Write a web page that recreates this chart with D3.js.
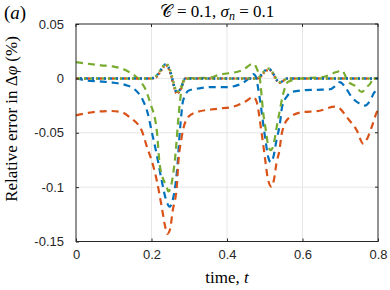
<!DOCTYPE html>
<html>
<head>
<meta charset="utf-8">
<script src="https://cdn.jsdelivr.net/npm/d3@7"></script>
<style>
  body { margin: 0; background: #fff; }
  svg { display: block; }
</style>
</head>
<body>
<div id="chart"></div>
<script>
// x ticks / y ticks
const xTicks = [0, 0.2, 0.4, 0.6, 0.8];
const yTicks = [0.05, 0, -0.05, -0.1, -0.15];

// blue dashed
const tBlue = [0, 0.03, 0.07, 0.1, 0.13, 0.155, 0.177, 0.19, 0.2, 0.215, 0.227, 0.238, 0.248, 0.258, 0.267, 0.276, 0.284, 0.3, 0.33, 0.36, 0.4, 0.43, 0.455, 0.47, 0.476, 0.482, 0.49, 0.496, 0.502, 0.509, 0.516, 0.523, 0.531, 0.54, 0.546, 0.56, 0.571, 0.6, 0.64, 0.673, 0.69, 0.699, 0.715, 0.73, 0.75, 0.765, 0.78, 0.79, 0.8];
const vBlue = [0, -0.002, -0.003, -0.004, -0.006, -0.01, -0.02, -0.032, -0.048, -0.072, -0.094, -0.111, -0.118, -0.109, -0.087, -0.045, -0.02, -0.011, -0.009, -0.008, -0.008, -0.006, -0.001, 0.004, 0.002, -0.008, -0.026, -0.042, -0.057, -0.072, -0.077, -0.072, -0.057, -0.042, -0.026, -0.016, -0.0125, -0.011, -0.0105, -0.01, -0.006, -0.0034, -0.009, -0.017, -0.023, -0.025, -0.02, -0.013, -0.011];

// orange dashed
const tOrange = [0, 0.046, 0.09, 0.12, 0.143, 0.174, 0.187, 0.205, 0.214, 0.227, 0.236, 0.242, 0.249, 0.256, 0.267, 0.271, 0.28, 0.297, 0.32, 0.373, 0.417, 0.45, 0.47, 0.478, 0.483, 0.49, 0.496, 0.502, 0.508, 0.518, 0.525, 0.531, 0.539, 0.545, 0.562, 0.6, 0.642, 0.686, 0.7, 0.717, 0.744, 0.761, 0.772, 0.783, 0.797, 0.8];
const vOrange = [-0.034, -0.031, -0.030, -0.031, -0.036, -0.048, -0.062, -0.081, -0.094, -0.118, -0.136, -0.143, -0.139, -0.122, -0.0997, -0.078, -0.054, -0.0355, -0.031, -0.028, -0.026, -0.021, -0.017, -0.021, -0.029, -0.046, -0.061, -0.077, -0.092, -0.0997, -0.092, -0.078, -0.066, -0.051, -0.037, -0.031, -0.030, -0.026, -0.028, -0.0355, -0.048, -0.06, -0.055, -0.045, -0.031, -0.029];

// green dashed
const tGreen = [0, 0.066, 0.097, 0.141, 0.172, 0.184, 0.196, 0.214, 0.222, 0.24, 0.245, 0.253, 0.262, 0.274, 0.284, 0.3, 0.35, 0.381, 0.439, 0.47, 0.48, 0.487, 0.496, 0.503, 0.509, 0.516, 0.523, 0.531, 0.539, 0.549, 0.562, 0.6, 0.65, 0.69, 0.704, 0.721, 0.74, 0.757, 0.77, 0.779, 0.788, 0.8];
const vGreen = [0.015, 0.012, 0.011, 0.0058, -0.0034, -0.01, -0.022, -0.048, -0.08, -0.0997, -0.104, -0.097, -0.075, -0.026, -0.003, 0.0, 0.0005, 0.0034, 0.0073, 0.0135, 0.008, 0.0, -0.032, -0.048, -0.0615, -0.066, -0.0615, -0.046, -0.031, -0.014, -0.003, 0.0, 0.001, 0.0058, 0.0073, -0.003, -0.007, -0.0125, -0.008, -0.005, 0.0, 0.0];

// dotted lines (three nearly identical)
const tDot = [0, 0.2, 0.212, 0.225, 0.238, 0.25, 0.26, 0.267, 0.277, 0.29, 0.48, 0.49, 0.5, 0.512, 0.522, 0.532, 0.54, 0.55, 0.56, 0.8];
const vDotGreen = [0, 0, 0.002, 0.008, 0.0135, 0.007, -0.006, -0.0125, -0.009, 0, 0, 0.003, 0.007, 0.009, 0.005, -0.001, -0.0034, -0.002, 0, 0];
const vDotOrange = [0, 0, 0.001, 0.007, 0.012, 0.005, -0.008, -0.014, -0.010, 0, 0, 0.002, 0.006, 0.008, 0.004, -0.002, -0.004, -0.002, 0, 0];
const vDotBlue = [0, 0, 0.002, 0.008, 0.013, 0.006, -0.007, -0.013, -0.0095, 0, 0, 0.003, 0.007, 0.0085, 0.0045, -0.0015, -0.0037, -0.002, 0, 0];

const W = 390, H = 290;
const margin = { left: 76, right: 12, top: 24, bottom: 48.5 };

const svg = d3.select('#chart').append('svg')
  .attr('width', W)
  .attr('height', H);

let x = d3.scaleLinear().domain([0, 0.8]).range([margin.left, W - margin.right]);
let y = d3.scaleLinear().domain([-0.15, 0.05]).range([H - margin.bottom, margin.top]);

// grid
svg.append('g').selectAll('line')
  .data(xTicks.slice(1, -1))
  .enter().append('line')
  .attr('x1', d => x(d)).attr('x2', d => x(d))
  .attr('y1', y(0.05)).attr('y2', y(-0.15))
  .attr('stroke', '#e6e6e6').attr('stroke-width', 1);
svg.append('g').selectAll('line')
  .data(yTicks.slice(1, -1))
  .enter().append('line')
  .attr('x1', x(0)).attr('x2', x(0.8))
  .attr('y1', d => y(d)).attr('y2', d => y(d))
  .attr('stroke', '#e6e6e6').attr('stroke-width', 1);

// lines
const plot = svg.append('g');
function drawLine(ts, vs, color, dash, offset, width) {
  let pts = ts.map((t, i) => [t, vs[i]]);
  let line = d3.line()
    .x(d => x(d[0]))
    .y(d => y(d[1]))
    .curve(d3.curveMonotoneX);
  plot.append('path')
    .datum(pts)
    .attr('d', line)
    .attr('fill', 'none')
    .attr('stroke', color)
    .attr('stroke-width', width || 2.2)
    .attr('stroke-dasharray', dash)
    .attr('stroke-dashoffset', offset || 0);
}
drawLine(tBlue, vBlue, '#0072BD', '7,5');
drawLine(tOrange, vOrange, '#D95319', '7,5');
drawLine(tGreen, vGreen, '#77AC30', '7,5');
drawLine(tDot, vDotOrange, '#D95319', '2,2', 0, 2.5);
drawLine(tDot, vDotBlue, '#0072BD', '2,4', 2, 2.5);
drawLine(tDot, vDotGreen, '#77AC30', '2,4', 4, 2.5);

// axes box + ticks
const axisColor = '#262626';
svg.append('rect')
  .attr('x', x(0)).attr('y', y(0.05))
  .attr('width', x(0.8) - x(0)).attr('height', y(-0.15) - y(0.05))
  .attr('fill', 'none').attr('stroke', axisColor).attr('stroke-width', 1);

let xAxis = svg.append('g')
  .attr('transform', 'translate(0,' + y(-0.15) + ')')
  .call(d3.axisBottom(x).tickValues(xTicks).tickSize(-3).tickPadding(8)
    .tickFormat(d => d === 0 ? '0' : d3.format('.1f')(d)));
let yAxis = svg.append('g')
  .attr('transform', 'translate(' + x(0) + ',0)')
  .call(d3.axisLeft(y).tickValues(yTicks).tickSize(-3).tickPadding(12)
    .tickFormat(d => d === 0 ? '0' : String(d)));
[xAxis, yAxis].forEach(a => {
  a.select('.domain').remove();
  a.selectAll('line').attr('stroke', axisColor);
  a.selectAll('text')
    .attr('fill', axisColor)
    .attr('font-family', 'Liberation Sans, Arial, sans-serif')
    .attr('font-size', '13px');
});
// top/right ticks
svg.append('g').selectAll('line')
  .data(xTicks).enter().append('line')
  .attr('x1', d => x(d)).attr('x2', d => x(d))
  .attr('y1', y(0.05)).attr('y2', y(0.05) + 3)
  .attr('stroke', axisColor);
svg.append('g').selectAll('line')
  .data(yTicks).enter().append('line')
  .attr('x1', x(0.8)).attr('x2', x(0.8) - 3)
  .attr('y1', d => y(d)).attr('y2', d => y(d))
  .attr('stroke', axisColor);

// labels
const serif = 'Liberation Serif, Times New Roman, serif';
// script C as its own text so the rest does not depend on its metrics
svg.append('text')
  .attr('x', 160).attr('y', 17)
  .attr('font-family', serif).attr('font-size', '17px').attr('fill', '#000')
  .text('𝒞');
let title = svg.append('text')
  .attr('x', 177).attr('y', 17)
  .attr('font-family', serif).attr('font-size', '17px').attr('fill', '#000');
title.append('tspan').text(' = 0.1, ');
title.append('tspan').attr('font-style', 'italic').text('σ');
title.append('tspan').attr('font-style', 'italic').attr('font-size', '12px').attr('dy', 3).text('n');
title.append('tspan').attr('dy', -3).text(' = 0.1');

let panel = svg.append('text')
  .attr('x', 4).attr('y', 19)
  .attr('font-family', serif).attr('font-size', '19px').attr('fill', '#000');
panel.append('tspan').text('(');
panel.append('tspan').attr('font-style', 'italic').text('a');
panel.append('tspan').text(')');

let xl = svg.append('text')
  .attr('x', (x(0) + x(0.8)) / 2).attr('y', 283)
  .attr('text-anchor', 'middle')
  .attr('font-family', serif).attr('font-size', '17px').attr('fill', '#000');
xl.append('tspan').text('time, ');
xl.append('tspan').attr('font-style', 'italic').text('t');

let yl = svg.append('text')
  .attr('transform', 'translate(17,' + 119 + ') rotate(-90)')
  .attr('text-anchor', 'middle')
  .attr('font-family', serif).attr('font-size', '17px').attr('fill', '#000');
yl.append('tspan').text('Relative error in Δ');
yl.append('tspan').attr('font-style', 'italic').text('φ');
yl.append('tspan').text(' (%)');
</script>
</body>
</html>
